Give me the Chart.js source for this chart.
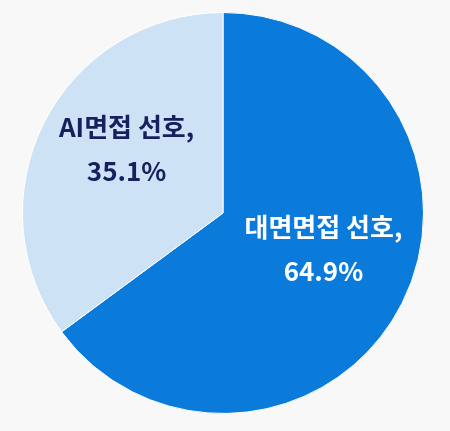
<!DOCTYPE html>
<html lang="ko">
<head>
    <meta charset="UTF-8">
    <title>면접 선호</title>
    <script src="https://cdn.jsdelivr.net/npm/chart.js"></script>
    <style>
        html, body { margin: 0; padding: 0; background: #f8f8f8; }
        .chart-container { width: 450px; height: 431px; }
    </style>
</head>
<body>
    <div class="chart-container">
        <canvas id="pieChart"></canvas>
    </div>

    <script>
        const labels = ['대면면접 선호', 'AI면접 선호'];
        const values = [64.9, 35.1];
        const colors = ['#0a7bdb', '#cde2f5'];
        const textColors = ['#ffffff', '#14215e'];

        // draw "label," / "value%" inside each slice
        const sliceLabels = {
            id: 'sliceLabels',
            afterDatasetsDraw(chart) {
                const ctx = chart.ctx;
                const meta = chart.getDatasetMeta(0);
                ctx.save();
                ctx.font = 'bold 26px "Noto Sans CJK KR", sans-serif';
                ctx.textAlign = 'center';
                ctx.textBaseline = 'middle';
                meta.data.forEach((arc, i) => {
                    const mid = (arc.startAngle + arc.endAngle) / 2;
                    const r = arc.outerRadius * 0.55;
                    const x = arc.x + Math.cos(mid) * r + 2;
                    const y = arc.y + Math.sin(mid) * r - 14;
                    ctx.fillStyle = textColors[i];
                    ctx.fillText(labels[i] + ',', x, y - 22);
                    ctx.fillText(values[i] + '%', x, y + 22);
                });
                ctx.restore();
            }
        };

        new Chart(document.getElementById('pieChart'), {
            type: 'pie',
            data: {
                labels: labels,
                datasets: [{
                    data: values,
                    backgroundColor: colors,
                    borderColor: '#ffffff',
                    borderWidth: 1
                }]
            },
            options: {
                responsive: true,
                maintainAspectRatio: false,
                animation: false,
                layout: { padding: { top: 11, bottom: 16, left: 22, right: 26 } },
                plugins: {
                    legend: { display: false },
                    tooltip: { enabled: false }
                }
            },
            plugins: [sliceLabels]
        });
    </script>
</body>
</html>
